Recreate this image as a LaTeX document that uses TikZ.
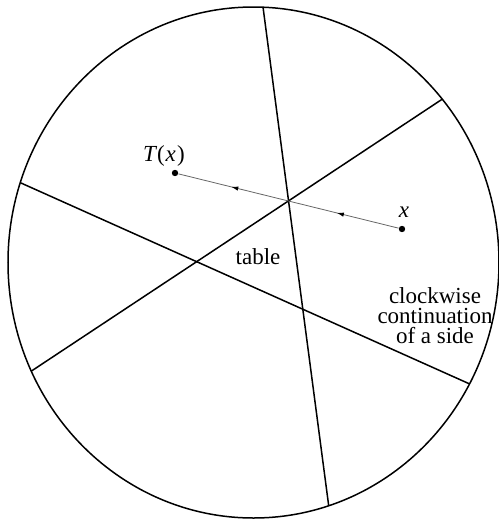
\documentclass[tikz,border=0pt]{standalone}
\usepackage{fontspec}
\setmainfont{Liberation Serif}
\usetikzlibrary{arrows.meta,decorations.markings}
\begin{document}
\begin{tikzpicture}[x=0.5pt,y=-0.5pt,
  edge/.style={line width=0.75pt, shorten <=-6pt, shorten >=-6pt},
  rim/.style={line width=0.75pt},
  orbit/.style={draw=black!60, line width=0.4pt,
    postaction={decorate},
    decoration={markings,
      mark=at position 0.28 with {\arrow[black]{Latex[length=3.5pt,width=2.2pt]}},
      mark=at position 0.76 with {\arrow[black]{Latex[length=3.5pt,width=2.2pt]}}}},
  dot/.style={circle, fill=black, inner sep=0pt, minimum size=3.2pt},
  lbl/.style={font=\fontsize{11.5}{10}\selectfont, inner sep=0pt}]
\useasboundingbox (0,0) rectangle (499,521);
% chord end points
\coordinate (v1) at (263,7);
\coordinate (v2) at (329,508);
\coordinate (a1) at (444,98);
\coordinate (a2) at (33,370);
\coordinate (b1) at (21,183);
\coordinate (b2) at (472,385);
\begin{scope}
  \clip (253.5,262.5) ellipse [x radius=245.5, y radius=255.5];
  \draw[edge] (v1) -- (v2);
  \draw[edge] (a1) -- (a2);
  \draw[edge] (b1) -- (b2);
\end{scope}
\draw[rim] (253.5,262.5) ellipse [x radius=245.5, y radius=255.5];
% points
\node[dot] (x) at (402,229) {};
\node[dot] (tx) at (175,173) {};
\draw[orbit] (x) -- (tx);
\node[lbl] (xl) at (404,212) {\itshape x};
\node[lbl] (txl) at (164,156) {{\itshape T\kern0.6pt}(\kern0.4pt{\itshape x}\kern0.6pt)};
\node[lbl] (table) at (258,257) {table};
\node[lbl, align=center] (cc) at (435,316) {clockwise\\continuation\\of a side};
\end{tikzpicture}
\end{document}
